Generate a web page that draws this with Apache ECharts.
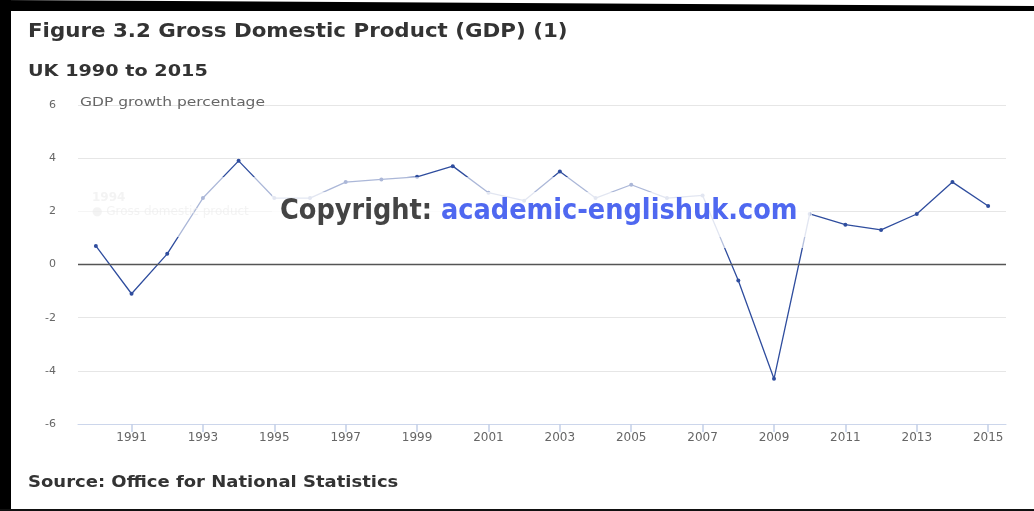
<!DOCTYPE html>
<html>
<head>
<meta charset="utf-8">
<script src="https://cdn.jsdelivr.net/npm/echarts@6/dist/echarts.min.js"></script>
<style>html,body{margin:0;padding:0;background:#fff;}#c{width:1034px;height:511px;}</style>
</head>
<body>
<div id="c"></div>
<script>
const years = ['1990','1991','1992','1993','1994','1995','1996','1997','1998','1999','2000','2001','2002','2003','2004','2005','2006','2007','2008','2009','2010','2011','2012','2013','2014','2015'];
const gdpGrowth = [0.7,-1.1,0.4,2.5,3.9,2.5,2.5,3.1,3.2,3.3,3.7,2.7,2.4,3.5,2.5,3.0,2.5,2.6,-0.6,-4.3,1.9,1.5,1.3,1.9,3.1,2.2];
const yTicks = [-6,-4,-2,0,2,4,6];

const chart = echarts.init(document.getElementById('c'), null, {renderer:'canvas'});
const oddIdx = (i) => i % 2 === 1;
const F = '"DejaVu Sans", Verdana, sans-serif';
chart.setOption({
  animation:false,
  grid:{left:78, right:28, top:105, bottom:87, containLabel:false},
  xAxis:{
    type:'category', data:years, boundaryGap:true,
    axisLine:{onZero:false, lineStyle:{color:'#ccd6eb', width:1}},
    axisTick:{show:true, alignWithLabel:true, interval:oddIdx, length:8, lineStyle:{color:'#c3cfe8', width:1.5}},
    axisLabel:{interval:oddIdx, color:'#666', fontSize:12, fontFamily:F, margin:8},
    splitLine:{show:false}
  },
  yAxis:{
    type:'value', min:yTicks[0], max:yTicks[yTicks.length-1], interval:2,
    axisLine:{show:false}, axisTick:{show:false},
    axisLabel:{color:'#666', fontSize:11, fontFamily:F, margin:22},
    splitLine:{lineStyle:{color:'#e6e6e6', width:1}}
  },
  series:[{
    type:'line', data:gdpGrowth,
    lineStyle:{color:'#2f4d9e', width:1.3},
    itemStyle:{color:'#2f4d9e'},
    symbol:'circle', symbolSize:4, showSymbol:true,
    markLine:{silent:true, symbol:'none', label:{show:false},
      lineStyle:{color:'#555', width:1.4, type:'solid'},
      data:[{yAxis:0}]}
  }],
  graphic:[
    {type:'rect', z:100, shape:{x:0,y:0,width:11,height:511}, style:{fill:'#000'}},
    {type:'polygon', z:100, shape:{points:[[0,0],[1034,6],[1034,11],[0,11]]}, style:{fill:'#000'}},
    {type:'rect', z:100, shape:{x:0,y:509,width:1034,height:2}, style:{fill:'#111'}},
    {type:'text', z:100, x:28, y:23, scaleX:1.125, style:{text:'Figure 3.2 Gross Domestic Product (GDP) (1)', fill:'#333', font:'bold 19px ' + F}},
    {type:'text', z:100, x:28, y:64, scaleX:1.2, style:{text:'UK 1990 to 2015', fill:'#333', font:'bold 16px ' + F}},
    {type:'text', z:100, x:80, y:96, scaleX:1.19, style:{text:'GDP growth percentage', fill:'#666', font:'13px ' + F}},
    {type:'text', z:100, x:28, y:476, scaleX:1.2, style:{text:'Source: Office for National Statistics', fill:'#333', font:'bold 15px ' + F}},
    {type:'rect', z:100, shape:{x:65,y:177,width:745,height:60}, style:{fill:'rgba(255,255,255,0.6)'}},
    {type:'text', z:101, x:92, y:192, style:{text:'1994', fill:'rgba(235,235,235,0.6)', font:'bold 12px ' + F}},
    {type:'text', z:101, x:92, y:206, style:{text:'\u25CF Gross domestic product', fill:'rgba(235,235,235,0.6)', font:'12px ' + F}},
    {type:'rect', z:102, shape:{x:272,y:192,width:540,height:56}, style:{fill:'rgba(255,255,255,0.65)'}},
    {type:'text', z:103, x:280, y:197, style:{
      text:'{a|Copyright: }{b|academic-englishuk.com}',
      rich:{
        a:{fill:'#444', font:'bold 28.5px "DejaVu Sans Condensed", sans-serif'},
        b:{fill:'#4f68f0', font:'bold 28.5px "DejaVu Sans Condensed", sans-serif'}
      }}}
  ]
});
</script>
</body>
</html>
